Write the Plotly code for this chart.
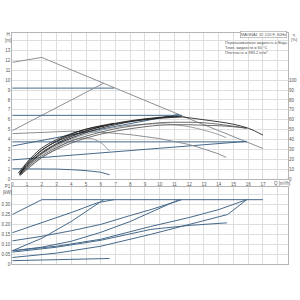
import plotly.graph_objects as go

# ---------------- data ----------------
# Head curves H [m] vs Q [m3/h]
Q_III = [0, 2, 4, 6, 8, 10, 12, 14, 16, 17]
H_III = [11.8, 12.3, 11.05, 9.8, 8.55, 7.35, 6.1, 4.9, 3.75, 3.1]
Q_CP3 = [0, 6.9]
H_CP3 = [9.2, 9.2]
Q_PP3 = [0, 6.2]
H_PP3 = [4.9, 9.7]
Q_CP2 = [0, 11.5]
H_CP2 = [6.45, 6.45]
Q_PP2 = [0, 11.3]
H_PP2 = [3.35, 6.55]
Q_CP1 = [0, 15.9]
H_CP1 = [3.77, 3.77]
Q_PP1 = [0, 15.9]
H_PP1 = [1.95, 3.82]
Q_II = [0, 2, 4, 6, 8, 10, 12, 13, 14, 14.5]
H_II = [4.6, 4.75, 4.85, 4.75, 4.5, 4.1, 3.5, 3.05, 2.55, 2.2]
Q_I = [0, 1, 2, 3, 4, 5, 6, 6.6]
H_I = [1.05, 1.06, 1.05, 1.02, 0.96, 0.87, 0.7, 0.45]

# Efficiency curves eta [%]
QE_III = [0.5, 1, 1.5, 2, 3, 4, 5, 6, 7, 8, 9, 10, 11, 12, 13, 14, 15, 16, 17]
E_III = [5, 14, 21, 27, 36, 43, 48.5, 53, 56.5, 59, 61, 62.5, 63.5, 62, 60, 58, 55.5, 51.5, 44.5]
QE_CP3 = [0.5, 1, 1.5, 2, 3, 4, 5, 6, 6.9]
E_CP3 = [5.5, 15, 22.5, 29, 38.5, 45.5, 50.5, 54, 56.5]
QE_PP3 = [0.4, 1, 1.5, 2, 3, 4, 5, 6, 6.2]
E_PP3 = [6, 17, 25, 31.5, 40, 46, 50.5, 53.5, 54]
QE_CP2 = [0.5, 1, 1.5, 2, 3, 4, 5, 6, 7, 8, 9, 10, 11, 11.5]
E_CP2 = [4.5, 13, 20, 26, 35, 41.5, 47, 51.5, 55, 58, 60, 61.5, 62.5, 63]
QE_PP2 = [0.5, 1, 1.5, 2, 3, 4, 5, 6, 7, 8, 9, 10, 11, 11.3]
E_PP2 = [6, 16, 23, 29.5, 38, 44, 49, 53, 56, 58.5, 60.5, 62, 63, 63.2]
QE_CP1 = [0.5, 1, 1.5, 2, 3, 4, 5, 6, 7, 8, 9, 10, 11, 12, 13, 14, 15, 15.9]
E_CP1 = [4, 11.5, 18, 23.5, 32, 38.5, 43.5, 47.5, 51, 53.5, 55.5, 57, 57.5, 57.5, 57, 55.5, 53.5, 51.5]
QE_PP1 = [0.6, 1, 1.5, 2, 3, 4, 5, 6, 7, 8, 9, 10, 11, 12, 13, 14, 15, 15.9]
E_PP1 = [4.5, 10, 16.5, 22, 30, 36.5, 41.5, 45.5, 48.5, 51, 53, 54.5, 55, 55, 54.5, 54, 53, 51.5]
QE_II = [0.5, 1, 1.5, 2, 3, 4, 5, 6, 7, 8, 9, 10, 11, 12, 13, 14, 14.5]
E_II = [4, 12, 19, 25, 33.5, 40.5, 45.5, 49.5, 52.5, 54.5, 55.5, 56, 55, 53, 49.5, 45, 42]
QE_I = [0.5, 1, 1.5, 2, 3, 4, 4.5, 5, 5.5, 6, 6.3, 6.6]
E_I = [3, 10, 16, 21.5, 31, 39, 41, 41.5, 40.5, 37, 33, 28.5]

# Power curves P1 [kW]
QP_III = [0, 2, 17]
P_III = [0.25, 0.325, 0.325]
QP_CP3 = [0, 2, 4, 5.8, 6.9]
P_CP3 = [0.158, 0.208, 0.26, 0.31, 0.325]
QP_PP3 = [0, 2, 4, 6.2]
P_PP3 = [0.067, 0.13, 0.215, 0.325]
QP_CP2 = [0, 2, 4, 6, 8, 9.4, 11.5]
P_CP2 = [0.117, 0.14, 0.168, 0.2, 0.245, 0.275, 0.325]
QP_PP2 = [0, 2, 4, 6, 8, 10, 11.3]
P_PP2 = [0.067, 0.085, 0.115, 0.16, 0.215, 0.28, 0.325]
QP_CP1 = [0, 3, 6, 9.4, 12, 14, 15.9]
P_CP1 = [0.067, 0.09, 0.125, 0.19, 0.235, 0.275, 0.325]
QP_PP1 = [0, 3, 6, 9.4, 12, 14.6, 15.9]
P_PP1 = [0.033, 0.055, 0.09, 0.15, 0.2, 0.25, 0.325]
QP_II = [0, 3, 6, 9.4, 12, 14.55]
P_II = [0.06, 0.085, 0.12, 0.175, 0.195, 0.208]
QP_I = [0, 3, 6.6]
P_I = [0.017, 0.021, 0.028]

Q_TICKS = list(range(0, 18))
H_TICKS = list(range(0, 14))
ETA_TICKS = list(range(0, 101, 10))
P_TICKS = [0, 0.05, 0.10, 0.15, 0.20, 0.25, 0.30]
P_TICK_TEXT = ["0", "0.05", "0.10", "0.15", "0.20", "0.25", "0.30"]

TITLE_BOX = "MAGNA1 32-120 F, 60Hz"
INFO_LINES = ["Перекачиваемая жидкость = Вода",
              "Темп. жидкости = 60 °C",
              "Плотность = 983.2 кг/м³"]

# ---------------- styling ----------------
BLUE = "#46698a"
GRAY = "#8a9096"
BLACK = "#1c1c1c"
DARK = "#555555"
GRID = "#dedede"
AX = "#b5b5b5"
TXT = "#555555"
FONT = "Liberation Sans"

W, H = 300, 300
def px_x(v):
    return v / W
def px_y(v):
    return 1 - v / H

fig = go.Figure()

head = [
    (Q_III, H_III, GRAY), (Q_CP3, H_CP3, BLUE), (Q_PP3, H_PP3, GRAY),
    (Q_CP2, H_CP2, BLUE), (Q_PP2, H_PP2, BLUE), (Q_CP1, H_CP1, BLUE),
    (Q_PP1, H_PP1, BLUE), (Q_II, H_II, GRAY), (Q_I, H_I, BLUE),
]
for q, h, c in head:
    fig.add_trace(go.Scatter(x=q, y=h, mode="lines", line=dict(color=c, width=1),
                             xaxis="x", yaxis="y", showlegend=False, hoverinfo="skip"))

eff = [
    (QE_II, E_II, GRAY), (QE_I, E_I, GRAY),
    (QE_PP1, E_PP1, DARK), (QE_CP1, E_CP1, DARK),
    (QE_CP2, E_CP2, BLACK), (QE_PP2, E_PP2, BLACK),
    (QE_CP3, E_CP3, BLACK), (QE_PP3, E_PP3, BLACK),
    (QE_III, E_III, BLACK),
]
for q, e, c in eff:
    fig.add_trace(go.Scatter(x=q, y=e, mode="lines", line=dict(color=c, width=0.85, shape="spline"),
                             xaxis="x", yaxis="y2", showlegend=False, hoverinfo="skip"))

power = [
    (QP_III, P_III, BLUE), (QP_CP3, P_CP3, BLUE), (QP_PP3, P_PP3, BLUE),
    (QP_CP2, P_CP2, BLUE), (QP_PP2, P_PP2, BLUE), (QP_CP1, P_CP1, BLUE),
    (QP_PP1, P_PP1, BLUE), (QP_II, P_II, BLUE), (QP_I, P_I, BLUE),
]
for q, p, c in power:
    fig.add_trace(go.Scatter(x=q, y=p, mode="lines", line=dict(color=c, width=1),
                             xaxis="x2", yaxis="y3", showlegend=False, hoverinfo="skip"))

xdom = [px_x(11.3), px_x(288)]
tickfont = dict(family=FONT, size=4.5, color=TXT)

fig.update_layout(
    width=W, height=H, margin=dict(l=0, r=0, t=0, b=0),
    paper_bgcolor="white", plot_bgcolor="white",
    font=dict(family=FONT, color=TXT),
    xaxis=dict(domain=xdom, range=[0, 18.7], anchor="y",
               tickvals=Q_TICKS + [18], ticktext=[str(v) for v in Q_TICKS] + [""],
               showgrid=True, gridcolor=GRID, gridwidth=1, zeroline=False,
               showline=True, mirror=True, linecolor=AX, linewidth=1,
               ticks="", tickfont=tickfont),
    yaxis=dict(domain=[px_y(181), px_y(33)], range=[0, 14.8], anchor="x",
               tickvals=H_TICKS + [14], ticktext=[str(v) for v in H_TICKS] + [""],
               showgrid=True, gridcolor=GRID, gridwidth=1, zeroline=False,
               showline=True, mirror=True, linecolor=AX, linewidth=1,
               ticks="", tickfont=tickfont),
    yaxis2=dict(overlaying="y", side="right", anchor="x", range=[0, 148],
                tickvals=ETA_TICKS, showgrid=False, zeroline=False,
                showline=False, ticks="", tickfont=tickfont),
    xaxis2=dict(domain=xdom, range=[0, 18.7], anchor="y3",
                tickvals=Q_TICKS + [18], showticklabels=False,
                showgrid=True, gridcolor=GRID, gridwidth=1, zeroline=False,
                showline=True, mirror=True, linecolor=AX, linewidth=1, ticks=""),
    yaxis3=dict(domain=[px_y(266.7), px_y(189)], range=[0, 0.3885], anchor="x2",
                tickvals=P_TICKS + [0.35], ticktext=P_TICK_TEXT + [""],
                showgrid=True, gridcolor=GRID, gridwidth=1, zeroline=False,
                showline=True, mirror=True, linecolor=AX, linewidth=1,
                ticks="", tickfont=tickfont),
)

ann = []
small = dict(family=FONT, size=4.5, color=TXT)
ann.append(dict(x=px_x(7), y=px_y(37.5), xref="paper", yref="paper", text="H<br>[m]",
                showarrow=False, font=small, xanchor="center", yanchor="middle"))
ann.append(dict(x=px_x(293.5), y=px_y(37), xref="paper", yref="paper", text="η<br>[%]",
                showarrow=False, font=dict(family=FONT, size=4.2, color=TXT),
                xanchor="center", yanchor="middle"))
ann.append(dict(x=px_x(282), y=px_y(185), xref="paper", yref="paper", text="Q [m³/h]",
                showarrow=False, font=small, xanchor="center", yanchor="middle"))
ann.append(dict(x=px_x(7), y=px_y(191), xref="paper", yref="paper", text="P1<br>[kW]",
                showarrow=False, font=small, xanchor="center", yanchor="middle"))
ann.append(dict(x=px_x(286.5), y=px_y(35.3), xref="paper", yref="paper", text=TITLE_BOX,
                showarrow=False, font=dict(family=FONT, size=4.0, color=TXT),
                xanchor="right", yanchor="middle", bordercolor="#9a9a9a", borderwidth=0.6,
                borderpad=0.3, bgcolor="white"))
for i, line in enumerate(INFO_LINES):
    ann.append(dict(x=px_x(223), y=px_y(43 + 5 * i), xref="paper", yref="paper", text=line,
                    showarrow=False, font=dict(family=FONT, size=3.9, color=TXT),
                    xanchor="left", yanchor="middle"))
fig.update_layout(annotations=ann)

fig.write_html("out.html")
